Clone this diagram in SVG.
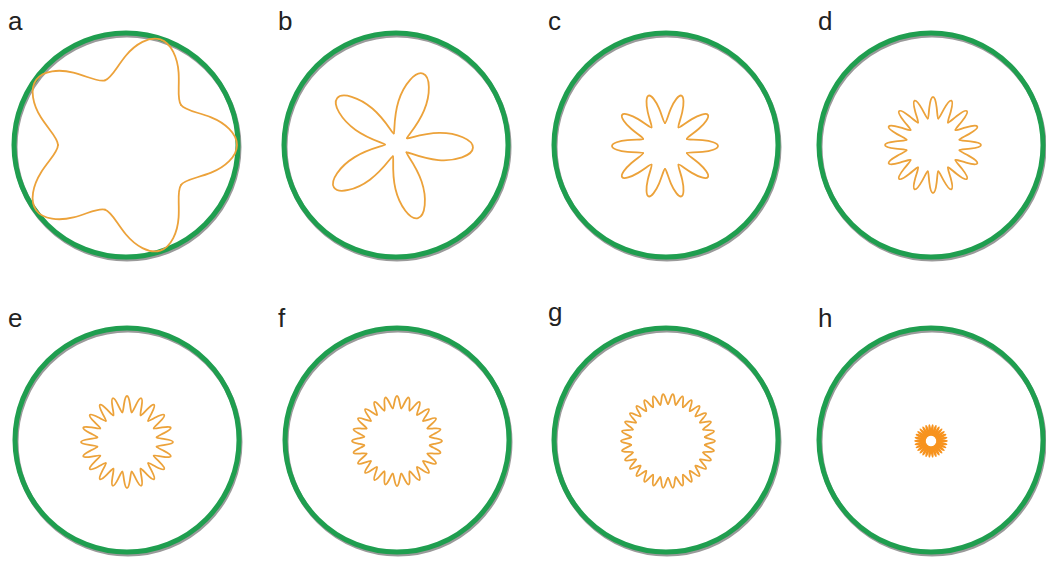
<svg xmlns="http://www.w3.org/2000/svg" width="1046" height="566" viewBox="0 0 1046 566">
<style>
.lbl{font-family:"Liberation Sans",Arial,sans-serif;font-size:26px;fill:#222}
.shadow{fill:none;stroke:#9a9a9a;stroke-width:5}
.ring{fill:none;stroke:#1f9e4f;stroke-width:5}
.wave{fill:none;stroke:#eca23a;stroke-width:1.8;stroke-linecap:round;stroke-linejoin:round}
.waveh{fill:none;stroke:#f7931e;stroke-width:1.6;stroke-linecap:round}
</style>
<defs>
<path id="la" d="M55.01,-39.97 C59.20,-34.21 71.52,-33.10 85.12,-27.66 C98.72,-22.23 111,-11.62 111,0 C111,11.62 98.72,22.23 85.12,27.66 C71.52,33.10 59.20,34.21 55.01,39.97"/>
<path id="lb" d="M9.71,-7.05 C10.45,-6.04 24.49,-12.80 41.85,-13.60 C59.21,-14.39 76,-7.96 76,0 C76,7.96 59.21,14.39 41.85,13.60 C24.49,12.80 10.45,6.04 9.71,7.05"/>
<path id="lc" d="M21.87,-7.11 C22.25,-5.96 29.46,-6.68 37.53,-5.94 C45.60,-5.21 53,-2.78 53,0 C53,2.78 45.60,5.21 37.53,5.94 C29.46,6.68 22.25,5.96 21.87,7.11"/>
<path id="ld" d="M26.48,-5.27 C26.65,-4.40 31.73,-4.36 37.32,-3.68 C42.91,-2.99 48,-1.57 48,0 C48,1.57 42.91,2.99 37.32,3.68 C31.73,4.36 26.65,4.40 26.48,5.27"/>
<path id="le" d="M29.63,-4.69 C29.75,-3.92 33.63,-3.64 37.88,-2.98 C42.14,-2.32 46,-1.20 46,0 C46,1.20 42.14,2.32 37.88,2.98 C33.63,3.64 29.75,3.92 29.63,4.69"/>
<path id="lf" d="M32.72,-4.31 C32.81,-3.59 35.73,-3.20 38.92,-2.55 C42.11,-1.91 45,-0.98 45,0 C45,0.98 42.11,1.91 38.92,2.55 C35.73,3.20 32.81,3.59 32.72,4.31"/>
<path id="lg" d="M36.80,-3.87 C36.87,-3.23 39.29,-2.79 41.94,-2.20 C44.60,-1.60 47,-0.82 47,0 C47,0.82 44.60,1.60 41.94,2.20 C39.29,2.79 36.87,3.23 36.80,3.87"/>
<path id="lh" d="M5.97,-0.63 C5.98,-0.52 8.36,-0.63 10.99,-0.58 C13.61,-0.52 16,-0.28 16,0 C16,0.28 13.61,0.52 10.99,0.58 C8.36,0.63 5.98,0.52 5.97,0.63"/>

<g id="ra"><use href="#la"/><use href="#la" transform="rotate(72)"/><use href="#la" transform="rotate(144)"/><use href="#la" transform="rotate(216)"/><use href="#la" transform="rotate(288)"/></g>
<g id="rb"><use href="#lb"/><use href="#lb" transform="rotate(72)"/><use href="#lb" transform="rotate(144)"/><use href="#lb" transform="rotate(216)"/><use href="#lb" transform="rotate(288)"/></g>
<g id="rc5"><use href="#lc"/><use href="#lc" transform="rotate(72)"/><use href="#lc" transform="rotate(144)"/><use href="#lc" transform="rotate(216)"/><use href="#lc" transform="rotate(288)"/></g>
<g id="rc"><use href="#rc5"/><use href="#rc5" transform="rotate(36)"/></g>
<g id="rd4"><use href="#ld"/><use href="#ld" transform="rotate(22.5)"/><use href="#ld" transform="rotate(45)"/><use href="#ld" transform="rotate(67.5)"/></g>
<g id="rd"><use href="#rd4"/><use href="#rd4" transform="rotate(90)"/><use href="#rd4" transform="rotate(180)"/><use href="#rd4" transform="rotate(270)"/></g>
<g id="re5"><use href="#le"/><use href="#le" transform="rotate(18)"/><use href="#le" transform="rotate(36)"/><use href="#le" transform="rotate(54)"/><use href="#le" transform="rotate(72)"/></g>
<g id="re"><use href="#re5"/><use href="#re5" transform="rotate(90)"/><use href="#re5" transform="rotate(180)"/><use href="#re5" transform="rotate(270)"/></g>
<g id="rf6"><use href="#lf"/><use href="#lf" transform="rotate(15)"/><use href="#lf" transform="rotate(30)"/><use href="#lf" transform="rotate(45)"/><use href="#lf" transform="rotate(60)"/><use href="#lf" transform="rotate(75)"/></g>
<g id="rf"><use href="#rf6"/><use href="#rf6" transform="rotate(90)"/><use href="#rf6" transform="rotate(180)"/><use href="#rf6" transform="rotate(270)"/></g>
<g id="rg6"><use href="#lg"/><use href="#lg" transform="rotate(12)"/><use href="#lg" transform="rotate(24)"/><use href="#lg" transform="rotate(36)"/><use href="#lg" transform="rotate(48)"/><use href="#lg" transform="rotate(60)"/></g>
<g id="rg"><use href="#rg6"/><use href="#rg6" transform="rotate(72)"/><use href="#rg6" transform="rotate(144)"/><use href="#rg6" transform="rotate(216)"/><use href="#rg6" transform="rotate(288)"/></g>
<g id="rh6"><use href="#lh"/><use href="#lh" transform="rotate(12)"/><use href="#lh" transform="rotate(24)"/><use href="#lh" transform="rotate(36)"/><use href="#lh" transform="rotate(48)"/><use href="#lh" transform="rotate(60)"/></g>
<g id="rh"><use href="#rh6"/><use href="#rh6" transform="rotate(72)"/><use href="#rh6" transform="rotate(144)"/><use href="#rh6" transform="rotate(216)"/><use href="#rh6" transform="rotate(288)"/></g>
</defs>
<rect width="1046" height="566" fill="#fff"/>

<g id="panel-a">
<text class="lbl" x="8" y="30">a</text>
<circle class="shadow" cx="127" cy="147" r="112"/>
<circle class="ring" cx="126" cy="145" r="112"/>
<use class="wave" href="#ra" transform="translate(126,145)"/>
</g>
<g id="panel-b">
<text class="lbl" x="278" y="30">b</text>
<circle class="shadow" cx="397" cy="147" r="112"/>
<circle class="ring" cx="396" cy="145" r="112"/>
<use class="wave" href="#rb" transform="translate(397,145) rotate(2)"/>
</g>
<g id="panel-c">
<text class="lbl" x="548" y="30">c</text>
<circle class="shadow" cx="667" cy="147" r="112"/>
<circle class="ring" cx="666" cy="145" r="112"/>
<use class="wave" href="#rc" transform="translate(665,146)"/>
</g>
<g id="panel-d">
<text class="lbl" x="818" y="30">d</text>
<circle class="shadow" cx="932" cy="147" r="112"/>
<circle class="ring" cx="931" cy="145" r="112"/>
<use class="wave" href="#rd" transform="translate(933,145)"/>
</g>
<g id="panel-e">
<text class="lbl" x="8" y="327">e</text>
<circle class="shadow" cx="128" cy="442" r="112"/>
<circle class="ring" cx="127" cy="440" r="112"/>
<use class="wave" href="#re" transform="translate(127,442)"/>
</g>
<g id="panel-f">
<text class="lbl" x="278" y="327">f</text>
<circle class="shadow" cx="398" cy="442" r="112"/>
<circle class="ring" cx="397" cy="440" r="112"/>
<use class="wave" href="#rf" transform="translate(397,441)"/>
</g>
<g id="panel-g">
<text class="lbl" x="548" y="321">g</text>
<circle class="shadow" cx="667" cy="442" r="112"/>
<circle class="ring" cx="666" cy="440" r="112"/>
<use class="wave" href="#rg" transform="translate(668,441)"/>
</g>
<g id="panel-h">
<text class="lbl" x="818" y="327">h</text>
<circle class="shadow" cx="932" cy="442" r="112"/>
<circle class="ring" cx="931" cy="440" r="112"/>
<use class="waveh" href="#rh" transform="translate(931,441)"/>
</g>
</svg>
